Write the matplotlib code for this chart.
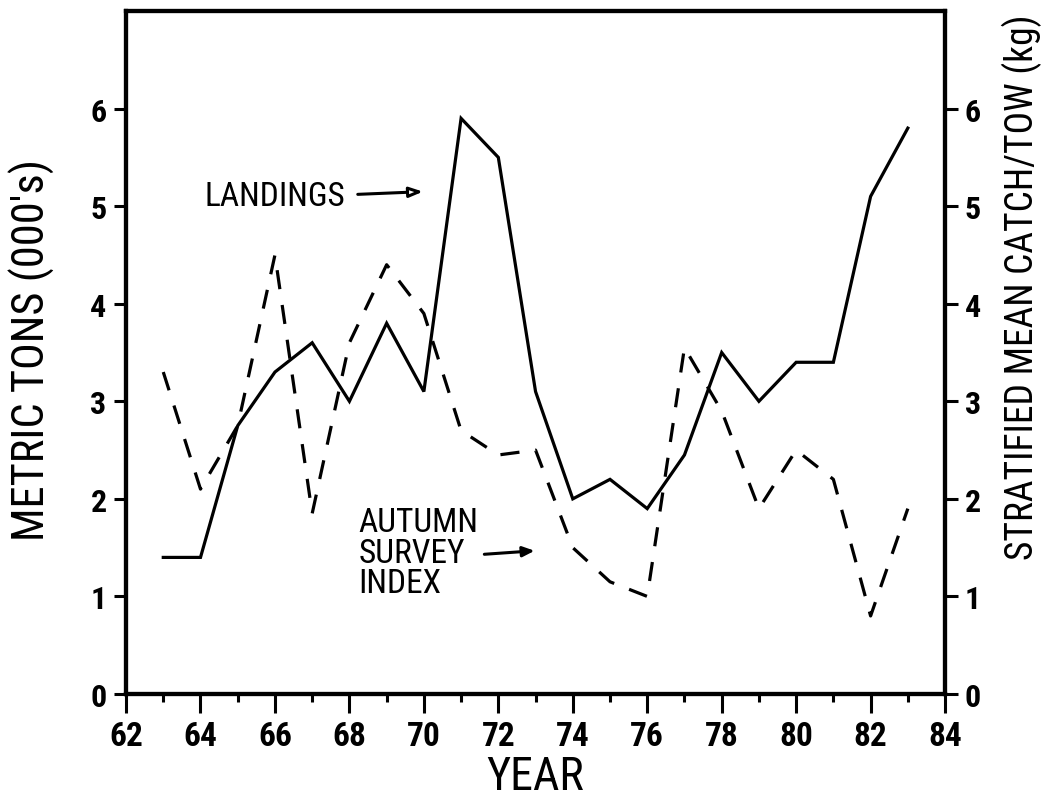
import matplotlib.pyplot as plt
from matplotlib.ticker import MultipleLocator

# Dữ liệu
nam = [63, 64, 65, 66, 67, 68, 69, 70, 71, 72, 73, 74, 75, 76, 77, 78, 79, 80, 81, 82, 83]
san_luong = [1.4, 1.4, 2.75, 3.3, 3.6, 3.0, 3.8, 3.1, 5.9, 5.5, 3.1, 2.0, 2.2, 1.9,
             2.45, 3.5, 3.0, 3.4, 3.4, 5.1, 5.8]
chi_so_thu = [3.3, 2.1, 2.75, 4.5, 1.85, 3.6, 4.4, 3.9, 2.7, 2.45, 2.5, 1.5, 1.15, 1.0,
              3.55, 2.9, 1.9, 2.5, 2.2, 0.8, 1.9]

nhan_x = ["62", "64", "66", "68", "70", "72", "74", "76", "78", "80", "82", "84"]
nhan_y = ["0", "1", "2", "3", "4", "5", "6"]

plt.rcParams['font.family'] = ['Roboto Condensed', 'Liberation Sans Narrow', 'DejaVu Sans']

fig = plt.figure(figsize=(10.46, 8.03), dpi=100)
ax = fig.add_axes([0.1205, 0.1345, 0.783, 0.8505])

ax.plot(nam, san_luong, color='black', linewidth=2.3, solid_joinstyle='miter')
ax.plot(nam, chi_so_thu, color='black', linewidth=2.3, linestyle=(0, (6, 5)))

ax.set_xlim(62, 84)
ax.set_ylim(0, 7)
ax.set_xticks(range(62, 85, 2))
ax.set_xticklabels(nhan_x)
ax.xaxis.set_minor_locator(MultipleLocator(1))
ax.set_yticks(range(0, 7))
ax.set_yticklabels(nhan_y)

for s in ax.spines.values():
    s.set_linewidth(3)

ax.tick_params(axis='x', which='major', direction='out', length=14, width=2.2,
               labelsize=24, pad=5)
ax.tick_params(axis='x', which='minor', direction='out', length=6, width=2.2)
ax.tick_params(axis='y', direction='out', length=9, width=2.2, labelsize=23, pad=5)
for t in ax.get_xticklabels() + ax.get_yticklabels():
    t.set_fontweight('bold')

ax.set_xlabel("YEAR", fontsize=33, labelpad=1)
ax.set_ylabel("METRIC TONS (000's)", fontsize=32)
ax.yaxis.set_label_coords(-0.087, 0.505)

ax2 = ax.twinx()
ax2.set_ylim(0, 7)
ax2.set_yticks(range(0, 7))
ax2.set_yticklabels(nhan_y)
ax2.tick_params(axis='y', direction='out', length=9, width=2.2, labelsize=23, pad=5)
for t in ax2.get_yticklabels():
    t.set_fontweight('bold')
ax2.set_ylabel("STRATIFIED MEAN CATCH/TOW (kg)", fontsize=27)
ax2.yaxis.set_label_coords(1.069, 0.597)
for s in ax2.spines.values():
    s.set_linewidth(3)

# Chú thích
ax.text(67.9, 5.1, "LANDINGS", fontsize=24, ha='right', va='center')
ax.annotate("", xy=(70.05, 5.15), xytext=(68.15, 5.12),
            arrowprops=dict(arrowstyle='-|>,head_length=0.8,head_width=0.3',
                            ec='black', fc='white', lw=2.2))

ax.text(68.25, 1.45, "AUTUMN\nSURVEY\nINDEX", fontsize=24, ha='left', va='center',
        linespacing=0.95)
ax.annotate("", xy=(73.05, 1.47), xytext=(71.55, 1.43),
            arrowprops=dict(arrowstyle='-|>,head_length=0.7,head_width=0.3',
                            color='black', lw=2.2))

fig.savefig("out.png", dpi=100)
